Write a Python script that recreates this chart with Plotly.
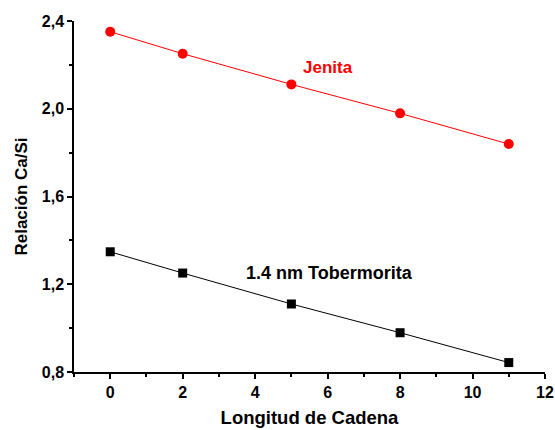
import plotly.graph_objects as go

chain_length = [0, 2, 5, 8, 11]
jenita = [2.351, 2.251, 2.111, 1.979, 1.839]
tobermorita = [1.348, 1.251, 1.110, 0.979, 0.843]

font = "Liberation Sans, Arial, sans-serif"

fig = go.Figure()
fig.add_trace(go.Scatter(x=chain_length, y=jenita, mode="lines+markers",
                         line=dict(color="#ff0000", width=1),
                         marker=dict(symbol="circle", size=10, color="#ff0000")))
fig.add_trace(go.Scatter(x=chain_length, y=tobermorita, mode="lines+markers",
                         line=dict(color="#000000", width=1),
                         marker=dict(symbol="square", size=9, color="#000000")))

fig.add_annotation(x=6.0, y=2.186, text="<b>Jenita</b>", showarrow=False,
                   font=dict(family=font, size=17, color="#ff0000"))
fig.add_annotation(x=6.05, y=1.25, text="<b>1.4 nm Tobermorita</b>", showarrow=False,
                   font=dict(family=font, size=18, color="#000000"))

fig.update_layout(
    width=555, height=430,
    margin=dict(l=74, r=10, t=21, b=58, autoexpand=False),
    paper_bgcolor="white", plot_bgcolor="white",
    showlegend=False,
    separators=",.",
    font=dict(family=font, color="black"),
)
fig.update_xaxes(range=[-1, 12], tickvals=[0, 2, 4, 6, 8, 10, 12], automargin=False,
                 showgrid=False, zeroline=False, showline=True, linecolor="black", linewidth=1.5,
                 ticks="outside", ticklen=5, tickwidth=1.5, tickcolor="black",
                 minor=dict(tickvals=[-1, 1, 3, 5, 7, 9, 11], ticks="outside", ticklen=3, tickwidth=1.5, tickcolor="black"),
                 tickfont=dict(family=font, size=16, color="black", weight="bold"),
                 title=dict(text="<b>Longitud de Cadena</b>", font=dict(family=font, size=18.5, color="black"), standoff=11))
fig.update_yaxes(range=[0.8, 2.4], tickvals=[0.8, 1.2, 1.6, 2.0, 2.4], tickformat=".1f", automargin=False,
                 showgrid=False, zeroline=False, showline=True, linecolor="black", linewidth=1.5,
                 ticks="outside", ticklen=5, tickwidth=1.5, tickcolor="black",
                 minor=dict(tickvals=[1.0, 1.4, 1.8, 2.2], ticks="outside", ticklen=3, tickwidth=1.5, tickcolor="black"),
                 tickfont=dict(family=font, size=16, color="black", weight="bold"),
                 title=dict(text="<b>Relación Ca/Si</b>", font=dict(family=font, size=17, color="black"), standoff=10))

# remove the browser's default 8px page margin so the 555x430 figure fills the window
fig.write_html("out.html", config={"displayModeBar": False},
               post_script="document.body.style.margin='0';document.body.style.overflow='hidden';")
